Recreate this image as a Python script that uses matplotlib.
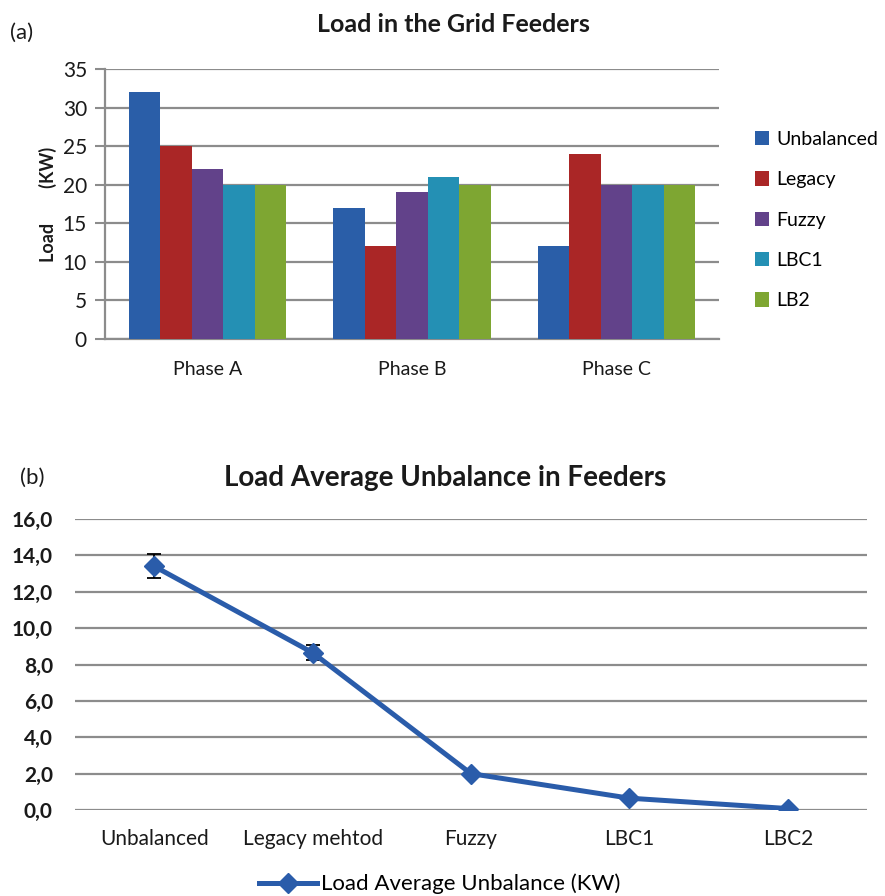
import matplotlib
matplotlib.use("Agg")
import matplotlib.pyplot as plt
import numpy as np
from matplotlib.ticker import FuncFormatter
from matplotlib.lines import Line2D

plt.rcParams['font.family'] = ['Lato', 'DejaVu Sans']

# ---- data (a) ----
phases = ["Phase A", "Phase B", "Phase C"]
series_names = ["Unbalanced", "Legacy", "Fuzzy", "LBC1", "LB2"]
unbalanced = [32, 17, 12]
legacy = [25, 12, 24]
fuzzy = [22, 19, 20]
lbc1 = [20, 21, 20]
lb2 = [20, 20, 20]
bar_colors = ["#2A5EA8", "#AA2626", "#62428A", "#2490B4", "#7EA632"]

# ---- data (b) ----
methods = ["Unbalanced", "Legacy mehtod", "Fuzzy", "LBC1", "LBC2"]
avg_unbalance = [13.4, 8.65, 2.0, 0.65, 0.08]
avg_err = [0.65, 0.42, 0.0, 0.0, 0.0]
line_color = "#2A5CAA"

W, H = 885, 896
fig = plt.figure(figsize=(W / 100, H / 100), dpi=100)

def px_axes(x0, y0, x1, y1):
    return fig.add_axes([x0 / W, 1 - y1 / H, (x1 - x0) / W, (y1 - y0) / H])

grid_c = "#8C8C8C"
txt_c = "#1a1a1a"

# ---------- (a) ----------
ax1 = px_axes(105, 69, 719, 339)
series = [unbalanced, legacy, fuzzy, lbc1, lb2]
x = np.arange(len(phases))
bw = 0.154
for i, (name, vals, c) in enumerate(zip(series_names, series, bar_colors)):
    ax1.bar(x + (i - 2) * bw, vals, width=bw, color=c, label=name, zorder=3,
            linewidth=0)
ax1.set_xlim(-0.5, 2.5)
ax1.set_ylim(0, 35)
ax1.set_yticks(range(0, 36, 5))
ax1.set_xticks(x)
ax1.set_xticklabels(phases, fontsize=14, color=txt_c)
ax1.tick_params(axis='x', length=0, pad=16)
ax1.tick_params(axis='y', length=7, width=1.5, color=grid_c, labelsize=15,
                labelcolor=txt_c, pad=6)
ax1.yaxis.grid(True, color=grid_c, linewidth=1.6, zorder=0)
ax1.set_axisbelow(True)
for s in ["top", "right"]:
    ax1.spines[s].set_visible(False)
for s in ["left", "bottom"]:
    ax1.spines[s].set_color(grid_c)
    ax1.spines[s].set_linewidth(1.6)
ax1.set_ylabel("Load        (KW)", fontsize=13, fontweight='bold', color=txt_c,
               labelpad=4)
fig.text(453 / W, 1 - 25 / H, "Load in the Grid Feeders", fontsize=18,
         fontweight='bold', color=txt_c, ha='center', va='center')
ax1.legend(loc='center left', bbox_to_anchor=(1.058, 0.44), frameon=False,
           fontsize=14, handlelength=0.75, handleheight=0.75,
           labelspacing=1.2, handletextpad=0.35, borderpad=0, borderaxespad=0)
fig.text(10 / W, 1 - 33 / H, "(a)", fontsize=16, va='center', ha='left',
         color=txt_c)

# ---------- (b) ----------
ax2 = px_axes(75, 519, 867, 810)
xb = np.arange(len(methods))
ax2.errorbar(xb, avg_unbalance, yerr=avg_err, color=line_color, linewidth=3.6,
             marker='D', markersize=10, ecolor='black', elinewidth=1.3,
             capsize=5, capthick=1.3, zorder=3)
ax2.set_xlim(-0.5, 4.5)
ax2.set_ylim(0, 16)
ax2.set_yticks(np.arange(0, 16.1, 2))
ax2.yaxis.set_major_formatter(FuncFormatter(lambda v, p: f"{v:.1f}".replace('.', ',')))
ax2.set_xticks(xb)
ax2.set_xticklabels(methods, fontsize=15, color=txt_c)
ax2.tick_params(axis='x', length=0, pad=14)
ax2.tick_params(axis='y', length=0, labelsize=15, pad=16)
for lbl in ax2.get_yticklabels():
    lbl.set_fontweight('bold')
    lbl.set_color(txt_c)
ax2.yaxis.grid(True, color=grid_c, linewidth=1.6, zorder=0)
ax2.set_axisbelow(True)
for s in ["top", "right", "left", "bottom"]:
    ax2.spines[s].set_visible(False)
fig.text(445 / W, 1 - 478 / H, "Load Average Unbalance in Feeders",
         fontsize=20, fontweight='bold', color=txt_c, ha='center', va='center')
lh = Line2D([], [], color=line_color, linewidth=3.6, marker='D', markersize=10)
fig.legend([lh], ["Load Average Unbalance (KW)"], loc='center',
           bbox_to_anchor=(440 / W, 1 - 884 / H), frameon=False, fontsize=16,
           handlelength=2.6, handletextpad=0.2, borderpad=0, borderaxespad=0)
fig.text(20 / W, 1 - 478 / H, "(b)", fontsize=16, va='center', ha='left',
         color=txt_c)

fig.savefig("out.png", dpi=100)
